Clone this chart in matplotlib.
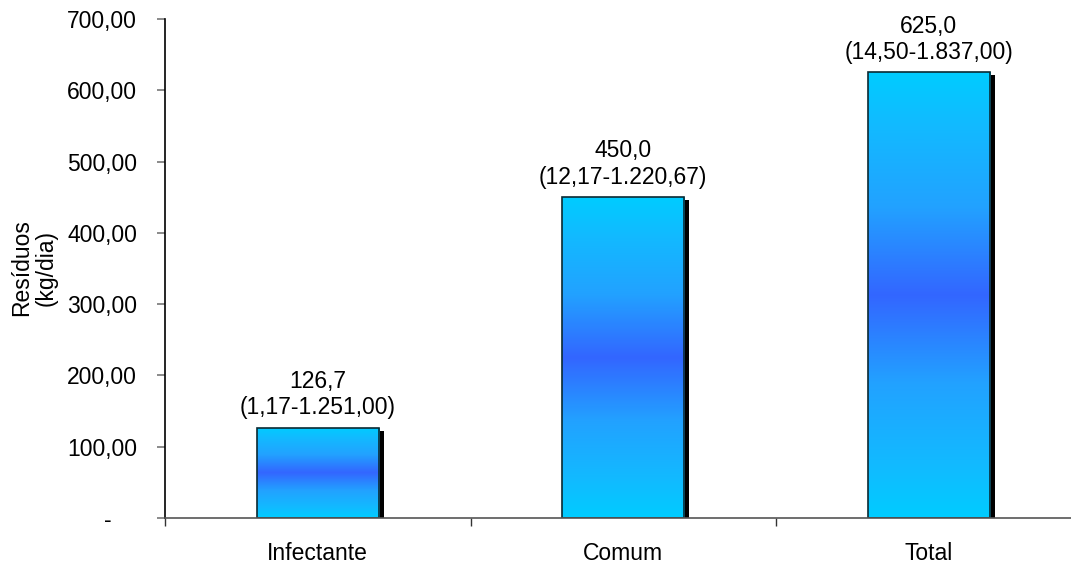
import matplotlib
matplotlib.use("Agg")
import matplotlib.pyplot as plt
import matplotlib.transforms as mtransforms
from matplotlib.colors import LinearSegmentedColormap
import numpy as np

categories = ["Infectante", "Comum", "Total"]
values = [126.7, 450.0, 625.0]
value_labels = ["126,7", "450,0", "625,0"]
range_labels = ["(1,17-1.251,00)", "(12,17-1.220,67)", "(14,50-1.837,00)"]
yticks = [0, 100, 200, 300, 400, 500, 600, 700]
ytick_labels = ["-    ", "100,00", "200,00", "300,00", "400,00", "500,00", "600,00", "700,00"]

plt.rcParams['font.family'] = ['Liberation Sans', 'DejaVu Sans']
FS = 16.5

fig = plt.figure(figsize=(10.71, 5.67), dpi=100)
ax = fig.add_axes([165/1071, 1-518/567, 916.5/1071, 499/567])

x = np.arange(len(categories))
width = 0.4

cmap = LinearSegmentedColormap.from_list(
    "grad",
    [(0.0, "#00CCFF"), (0.12, "#12BAFF"), (0.3, "#22A2FF"), (0.5, "#3366FF"),
     (0.7, "#22A2FF"), (0.88, "#12BAFF"), (1.0, "#00CCFF")])
grad = np.linspace(0, 1, 256).reshape(-1, 1)

# shadows
shadow_tr = ax.transData + mtransforms.ScaledTranslation(5/100, -3/100, fig.dpi_scale_trans)
shadows = ax.bar(x, values, width, color="black", edgecolor="black", linewidth=0, zorder=1)
for s in shadows:
    s.set_transform(shadow_tr)

bars = ax.bar(x, values, width, facecolor="none", edgecolor="#0a2a33", linewidth=1.2, zorder=3)
for b in bars:
    x0, y0 = b.get_x(), b.get_y()
    w, h = b.get_width(), b.get_height()
    im = ax.imshow(grad, cmap=cmap, aspect="auto", extent=[x0, x0 + w, y0, y0 + h],
                   origin="upper", zorder=2, interpolation="bilinear")
    im.set_clip_path(b)

for xi, v, vl, rl in zip(x, values, value_labels, range_labels):
    ax.annotate(vl + "\n" + rl, (xi, v), xytext=(0, 6), textcoords="offset points",
                ha="center", va="bottom", fontsize=FS, linespacing=1.2)

ax.set_xlim(-0.5, 2.5)
ax.set_ylim(0, 700)
ax.set_yticks(yticks)
ax.set_yticklabels(ytick_labels, fontsize=FS)
ax.set_xticks(x)
ax.set_xticklabels(categories, fontsize=FS)
ax.set_xticks([-0.5, 0.5, 1.5, 2.5], minor=True)
ax.tick_params(axis="x", which="major", length=0, pad=17)
ax.tick_params(axis="x", which="minor", length=6, width=1, color="#333333", direction="out")
ax.tick_params(axis="y", length=6, width=1.2, color="#777777", direction="out", pad=14)

for sp in ["top", "right"]:
    ax.spines[sp].set_visible(False)
ax.spines["left"].set_color("black")
ax.spines["left"].set_linewidth(1.2)
ax.spines["bottom"].set_color("#555555")
ax.spines["bottom"].set_linewidth(1.2)
ax.spines["left"].set_zorder(5)
ax.spines["bottom"].set_zorder(5)

fig.text(34/1071, 1-268/567, "Resíduos\n(kg/dia)", rotation=90, ha="center", va="center",
         fontsize=FS, linespacing=1.05)

fig.savefig("out.png", dpi=100)
